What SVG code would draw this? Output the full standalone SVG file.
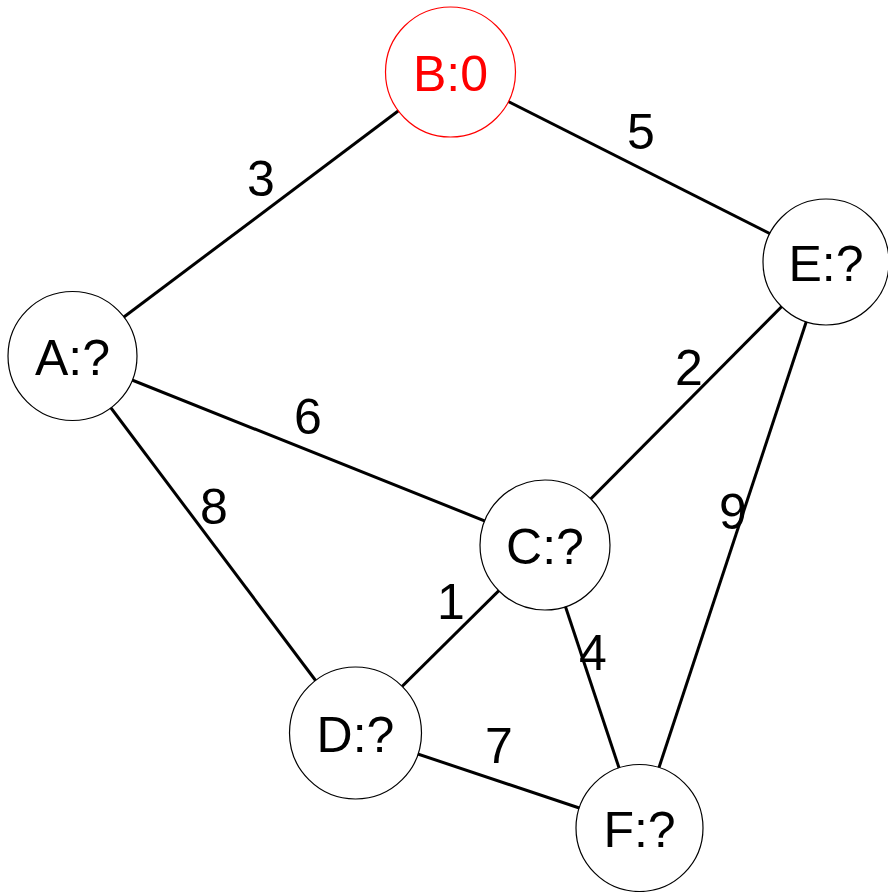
<svg xmlns="http://www.w3.org/2000/svg" width="888" height="892" viewBox="0 0 888 892">
<style>
.edge{stroke:#000;stroke-width:3;fill:none}
.node circle{fill:#fff;stroke:#000;stroke-width:1.2}
.node text,.lbl{font-family:"Liberation Sans","DejaVu Sans",sans-serif;font-size:50px;text-anchor:middle;fill:#000}
#B circle{stroke:#ff0000}
#B text{fill:#ff0000}
</style>
<rect width="888" height="892" fill="#fff"/>
<g id="edges">
<line class="edge" x1="450" y1="72" x2="72" y2="356"/>
<line class="edge" x1="450" y1="72" x2="826" y2="262"/>
<line class="edge" x1="72" y1="356" x2="545" y2="545"/>
<line class="edge" x1="72" y1="356" x2="355" y2="733"/>
<line class="edge" x1="826" y1="262" x2="545" y2="545"/>
<line class="edge" x1="826" y1="262" x2="639" y2="828"/>
<line class="edge" x1="545" y1="545" x2="355" y2="733"/>
<line class="edge" x1="545" y1="545" x2="639" y2="828"/>
<line class="edge" x1="355" y1="733" x2="639" y2="828"/>
</g>
<g id="edge-labels">
<text class="lbl" x="261" y="196">3</text>
<text class="lbl" x="641" y="149">5</text>
<text class="lbl" x="689" y="385">2</text>
<text class="lbl" x="308" y="434">6</text>
<text class="lbl" x="214" y="524">8</text>
<text class="lbl" x="733" y="529">9</text>
<text class="lbl" x="451" y="619">1</text>
<text class="lbl" x="593" y="670">4</text>
<text class="lbl" x="499" y="763">7</text>
</g>
<g id="B" class="node"><circle cx="450.5" cy="72" r="65"/><text x="450.5" y="91">B:0</text></g>
<g id="E" class="node"><circle cx="826" cy="262" r="63"/><text x="826" y="281">E:?</text></g>
<g id="A" class="node"><circle cx="72.5" cy="356" r="64.5"/><text x="72.5" y="375">A:?</text></g>
<g id="C" class="node"><circle cx="545" cy="545" r="65"/><text x="545" y="564">C:?</text></g>
<g id="D" class="node"><circle cx="355.5" cy="733" r="66"/><text x="355.5" y="752">D:?</text></g>
<g id="F" class="node"><circle cx="639.5" cy="828" r="63.5"/><text x="639.5" y="847">F:?</text></g>
</svg>
